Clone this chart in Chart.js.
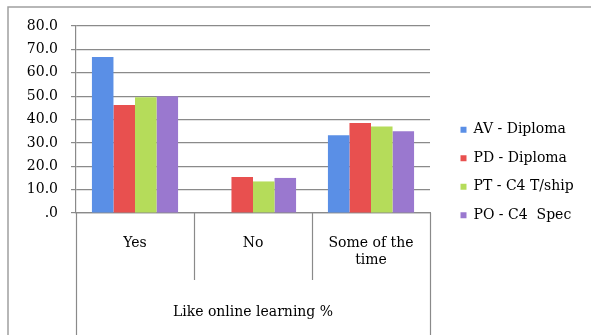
<!DOCTYPE html>
<html lang="en">
<head>
    <meta charset="UTF-8">
    <title>Like online learning %</title>
    <style>
        html, body { margin: 0; padding: 0; background: #fff; overflow: hidden; }
        #wrap { width: 591px; height: 335px; }
        canvas { display: block; }
    </style>
</head>
<body>
    <div id="wrap"><canvas id="myChart" width="591" height="335"></canvas></div>

    <script src="https://cdn.jsdelivr.net/npm/chart.js"></script>
    <script>
        // categories and series (percent)
        const categories = ['Yes', 'No', ['Some of the', 'time']];
        const seriesNames = ['AV - Diploma', 'PD - Diploma', 'PT - C4 T/ship', 'PO - C4  Spec'];
        const avDiploma = [66.7, 0, 33.3];
        const pdDiploma = [46.2, 15.4, 38.5];
        const ptTship = [49.5, 13.5, 37.0];
        const poSpec = [50.0, 15.0, 35.0];
        const yTicks = [0, 10, 20, 30, 40, 50, 60, 70, 80];

        const colors = ['#5a8fe6', '#e8504f', '#b5dc5a', '#9a78cf'];
        const lineGrey = '#8a8a8a';
        const font = { family: 'DejaVu Serif', size: 14 };

        const data = {
            labels: categories,
            datasets: [avDiploma, pdDiploma, ptTship, poSpec].map((vals, i) => ({
                label: seriesNames[i],
                data: vals,
                backgroundColor: colors[i],
                borderWidth: 0,
                categoryPercentage: 0.73,
                barPercentage: 1.0
            }))
        };

        // outer frame + category dividers under the x axis
        const framePlugin = {
            id: 'frame',
            beforeUpdate(chart) {
                const legend = chart.legend;
                if (legend && !legend._wrapped) {
                    const fit = legend.fit;
                    legend.fit = function () {
                        fit.call(this);
                        this.width = 161;
                    };
                    legend._wrapped = true;
                }
            },
            afterLayout(chart) {
                const legend = chart.legend;
                legend.left += 16;
                legend.right += 16;
                legend.top -= 8;
                legend.bottom -= 8;
            },
            afterDraw(chart) {
                const ctx = chart.ctx;
                const x = chart.scales.x;
                const n = chart.data.labels.length;
                ctx.save();
                ctx.strokeStyle = '#a0a0a0';
                ctx.lineWidth = 1.5;
                ctx.beginPath();
                ctx.moveTo(8, chart.height);
                ctx.lineTo(8, 7);
                ctx.lineTo(chart.width, 7);
                ctx.stroke();

                ctx.strokeStyle = lineGrey;
                ctx.lineWidth = 1.2;
                for (let i = 0; i <= n; i++) {
                    let px;
                    if (i === 0) px = x.left;
                    else if (i === n) px = x.right;
                    else px = (x.getPixelForTick(i - 1) + x.getPixelForTick(i)) / 2;
                    const yEnd = (i === 0 || i === n) ? chart.height : x.top + 67;
                    px = Math.round(px) + 0.5;
                    ctx.beginPath();
                    ctx.moveTo(px, x.top);
                    ctx.lineTo(px, yEnd);
                    ctx.stroke();
                }
                ctx.restore();
            }
        };

        const config = {
            type: 'bar',
            data: data,
            options: {
                responsive: false,
                animation: false,
                layout: { padding: { top: 26, left: 0, right: 0, bottom: 0 } },
                plugins: {
                    legend: {
                        position: 'right',
                        labels: {
                            font: font,
                            color: '#000',
                            boxWidth: 6,
                            boxHeight: 6,
                            padding: 14.5
                        }
                    },
                    tooltip: { enabled: false }
                },
                scales: {
                    x: {
                        afterFit(scale) { scale.height = 122; },
                        grid: { display: true, drawOnChartArea: false, drawTicks: false, color: 'rgba(0,0,0,0)' },
                        border: { display: true, color: lineGrey, width: 1.2 },
                        ticks: { font: font, color: '#000', padding: 22, maxRotation: 0, autoSkip: false },
                        title: {
                            display: true,
                            text: 'Like online learning %',
                            font: font,
                            color: '#000',
                            padding: { top: 4, bottom: 14 }
                        }
                    },
                    y: {
                        min: 0,
                        max: 80,
                        afterFit(scale) { scale.width = 76; },
                        afterBuildTicks(scale) { scale.ticks = yTicks.map(v => ({ value: v })); },
                        grid: { color: lineGrey, lineWidth: 1.2, tickLength: 5 },
                        border: { display: true, color: lineGrey, width: 1.2 },
                        ticks: {
                            font: font,
                            color: '#000',
                            padding: 13,
                            callback: v => v === 0 ? '.0' : v.toFixed(1)
                        }
                    }
                }
            },
            plugins: [framePlugin]
        };

        const ctx = document.getElementById('myChart').getContext('2d');
        new Chart(ctx, config);
    </script>
</body>
</html>
